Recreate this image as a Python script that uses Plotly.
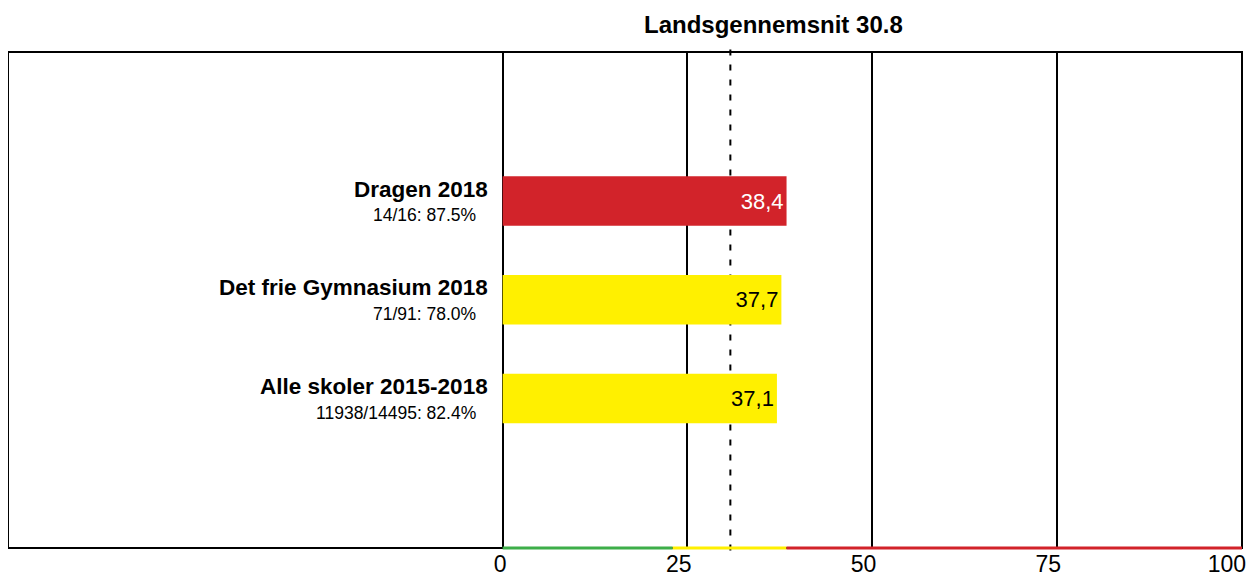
import plotly.graph_objects as go

# ---- data ----
categories = ["Dragen 2018", "Det frie Gymnasium 2018", "Alle skoler 2015-2018"]
sublabels = ["14/16: 87.5%", "71/91: 78.0%", "11938/14495: 82.4%"]
values = [38.4, 37.7, 37.1]
national_avg = 30.8
tick_vals = [0, 25, 50, 75, 100]
tick_text = ["0", "25", "50", "75", "100"]
band_edges = [0, 23, 38.4, 100]

# ---- styles ----
RED = "#D2232A"
YELLOW = "#FFF000"
GREEN = "#3DAE49"
band_colors = [GREEN, YELLOW, RED]
bar_colors = [RED, YELLOW, YELLOW]
text_colors = ["white", "black", "black"]
FONT = "Liberation Sans, Arial, Helvetica, sans-serif"

fig = go.Figure()
fig.add_trace(go.Bar(
    x=values, y=categories, orientation="h",
    marker=dict(color=bar_colors, line=dict(width=0)),
    width=0.5,
    texttemplate="%{x:.1f}", textposition="inside", insidetextanchor="end",
    textfont=dict(size=22, color=text_colors, family=FONT),
    hoverinfo="skip",
))

shapes = []
# national average dashed line
shapes.append(dict(type="line", xref="x", yref="paper", x0=national_avg, x1=national_avg,
                   y0=-0.005, y1=1.005, line=dict(color="black", width=2, dash="6px,9px"), layer="below"))
# frame
shapes.append(dict(type="rect", xref="paper", yref="paper", x0=0, x1=1, y0=0, y1=1,
                   line=dict(color="black", width=2), fillcolor="rgba(0,0,0,0)", layer="above"))
# colour bands on bottom axis
for i, c in enumerate(band_colors):
    shapes.append(dict(type="line", xref="x", yref="paper", x0=band_edges[i], x1=band_edges[i + 1],
                       y0=0, y1=0, line=dict(color=c, width=3), layer="above"))

annotations = []
for cat, sub in zip(categories, sublabels):
    annotations.append(dict(x=0, y=cat, xref="x", yref="y", text="<b>%s</b>" % cat,
                            showarrow=False, xanchor="right", yanchor="middle",
                            xshift=-13, yshift=12, font=dict(size=22.5, color="black", family=FONT)))
    annotations.append(dict(x=0, y=cat, xref="x", yref="y", text=sub,
                            showarrow=False, xanchor="right", yanchor="middle",
                            xshift=-25, yshift=-14, font=dict(size=17.5, color="black", family=FONT)))
annotations.append(dict(x=0.6207, y=1, xref="paper", yref="paper", yshift=28,
                        text="<b>Landsgennemsnit %s</b>" % national_avg, showarrow=False,
                        xanchor="center", yanchor="middle",
                        font=dict(size=24, color="black", family=FONT)))

fig.update_layout(
    width=1247, height=570,
    margin=dict(l=0, r=13, t=44, b=30),
    paper_bgcolor="white", plot_bgcolor="white",
    separators=",.",
    showlegend=False,
    shapes=shapes, annotations=annotations,
    font=dict(family=FONT, color="black"),
    xaxis=dict(range=[-66.9, 100], tickvals=tick_vals, ticktext=tick_text,
               showgrid=True, gridcolor="black", gridwidth=2, zeroline=False,
               ticks="", ticklabelposition="outside left", ticklabelshift=4,
               tickfont=dict(size=23, color="black", family=FONT), fixedrange=True),
    yaxis=dict(categoryorder="array", categoryarray=categories, range=[3.514, -1.509],
               showticklabels=False, showgrid=False, zeroline=False, fixedrange=True),
)

fig.write_html("out.html")
